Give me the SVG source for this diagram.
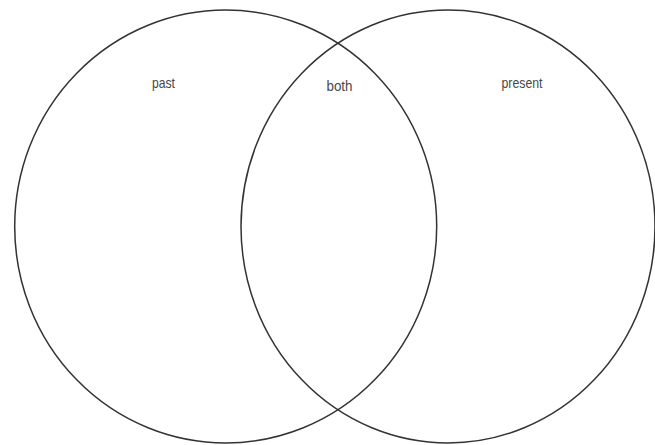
<svg xmlns="http://www.w3.org/2000/svg" width="655" height="445" viewBox="0 0 655 445">
  <style>
    .ring { fill: none; stroke: #333333; stroke-width: 1.5; }
    .label { font-family: "Liberation Sans", "DejaVu Sans", sans-serif; font-size: 15px; fill: #474747; text-anchor: middle; }
  </style>
  <rect x="0" y="0" width="655" height="445" fill="#ffffff"/>
  <g id="past">
    <ellipse class="ring" cx="225.7" cy="226.5" rx="211" ry="216.5"/>
    <text class="label" x="163.5" y="88" textLength="23" lengthAdjust="spacingAndGlyphs">past</text>
  </g>
  <g id="present">
    <ellipse class="ring" cx="448" cy="226.5" rx="207" ry="216.5"/>
    <text class="label" x="522" y="88" textLength="41" lengthAdjust="spacingAndGlyphs">present</text>
  </g>
  <g id="both">
    <text class="label" x="339.5" y="90.5" textLength="26" lengthAdjust="spacingAndGlyphs">both</text>
  </g>
  <g id="connectors"></g>
</svg>
